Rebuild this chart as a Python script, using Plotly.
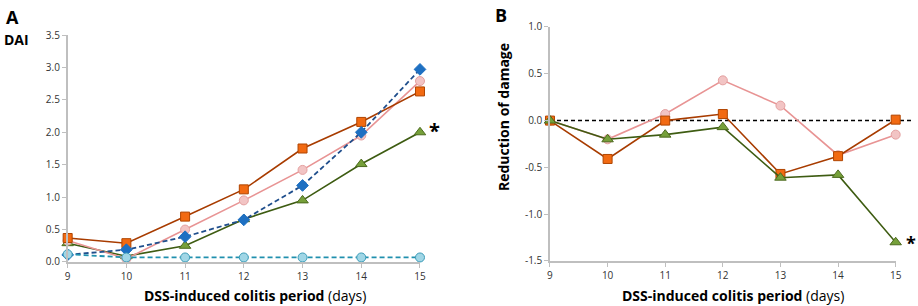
import plotly.graph_objects as go

days = [9, 10, 11, 12, 13, 14, 15]

# Panel A: DAI
dai_orange = [0.37, 0.29, 0.70, 1.12, 1.75, 2.16, 2.63]
dai_pink = [0.33, 0.05, 0.50, 0.95, 1.42, 1.95, 2.79]
dai_blue = [0.11, 0.19, 0.39, 0.65, 1.18, 2.00, 2.97]
dai_green = [0.29, 0.09, 0.25, 0.66, 0.95, 1.51, 2.00]
dai_cyan = [0.12, 0.07, 0.07, 0.07, 0.07, 0.07, 0.07]

# Panel B: reduction of damage
red_pink = [0.0, -0.20, 0.07, 0.43, 0.16, -0.37, -0.15]
red_orange = [0.0, -0.41, 0.0, 0.07, -0.57, -0.38, 0.01]
red_green = [0.0, -0.20, -0.15, -0.07, -0.61, -0.58, -1.30]

a_ticks = [0.0, 0.5, 1.0, 1.5, 2.0, 2.5, 3.0, 3.5]
a_ticktext = ["0.0", "0.5", "1.0", "1.5", "2.0", "2.5", "3.0", "3.5"]
b_ticks = [-1.5, -1.0, -0.5, 0.0, 0.5, 1.0]
b_ticktext = ["-1.5", "-1.0", "-0.5", "0.0", "0.5", "1.0"]

FONT = "Open Sans"

ORANGE = dict(line=dict(color="#A83C00", width=1.6),
              marker=dict(symbol="square", size=9, color="#F26A12",
                          line=dict(color="#B04500", width=1)))
PINK = dict(line=dict(color="#E89494", width=1.6),
            marker=dict(symbol="circle", size=9, color="#F2C4C4",
                        line=dict(color="#E4A0A0", width=1)))
GREEN = dict(line=dict(color="#3E5C12", width=1.6),
             marker=dict(symbol="triangle-up", size=10, color="#76A03A",
                         line=dict(color="#4C6A1E", width=1)))
BLUE = dict(line=dict(color="#1F4E8C", width=1.8, dash="5px,3px"),
            marker=dict(symbol="diamond", size=9, color="#1E70C2",
                        line=dict(color="#1E70C2", width=1)))
CYAN = dict(line=dict(color="#2090AE", width=1.8, dash="5px,3px"),
            marker=dict(symbol="circle", size=9, color="#A0D6E6",
                        line=dict(color="#3C9CB8", width=1)))

fig = go.Figure()

def add(x, y, style, xa, ya):
    fig.add_trace(go.Scatter(x=x, y=y, mode="lines+markers", xaxis=xa, yaxis=ya,
                             line=style["line"], marker=style["marker"],
                             cliponaxis=False, showlegend=False, hoverinfo="x+y"))

add(days, dai_green, GREEN, "x", "y")
add(days, dai_pink, PINK, "x", "y")
add(days, dai_orange, ORANGE, "x", "y")
add(days, dai_blue, BLUE, "x", "y")
add(days, dai_cyan, CYAN, "x", "y")

add(days, red_pink, PINK, "x2", "y2")
add(days, red_orange, ORANGE, "x2", "y2")
add(days, red_green, GREEN, "x2", "y2")

axis_common = dict(showgrid=False, zeroline=False, showline=True, automargin=False,
                   linecolor="#BFBFBF", linewidth=1.5, ticks="outside",
                   tickcolor="#BFBFBF", ticklen=4, tickwidth=1,
                   tickfont=dict(family=FONT, size=10, color="#333333"))

title_text = "<b>DSS-induced colitis period</b> (days)"

fig.update_layout(
    template="none",
    width=918, height=306, autosize=False,
    margin=dict(l=0, r=0, t=0, b=0, pad=0),
    paper_bgcolor="white", plot_bgcolor="white",
    font=dict(family=FONT),
    xaxis=dict(domain=[0.0737, 0.4575], range=[9, 15], tickvals=days, anchor="y",
               **axis_common),
    yaxis=dict(domain=[0.1438, 0.8856], range=[0, 3.5], tickvals=a_ticks,
               ticktext=a_ticktext, anchor="x", **axis_common),
    xaxis2=dict(domain=[0.5991, 0.9757], range=[9, 15], tickvals=days, anchor="y2",
                **axis_common),
    yaxis2=dict(domain=[0.1471, 0.9118], range=[-1.5, 1.0], tickvals=b_ticks,
                ticktext=b_ticktext, anchor="x2", **axis_common),
)

# zero reference line in panel B
fig.add_shape(type="line", xref="paper", yref="y2", x0=550 / 918, x1=913 / 918,
              y0=0, y1=0, line=dict(color="black", width=1.5, dash="4px,3px"),
              layer="below")

ann = []
ann.append(dict(text="<b>A</b>", x=4 / 918, y=1 - 3 / 306, xref="paper", yref="paper",
                xanchor="left", yanchor="top", showarrow=False,
                font=dict(family=FONT, size=18, color="black")))
ann.append(dict(text="<b>DAI</b>", x=2 / 918, y=1 - 40 / 306, xref="paper", yref="paper",
                xanchor="left", yanchor="middle", showarrow=False,
                font=dict(family=FONT, size=14, color="black")))
ann.append(dict(text="<b>B</b>", x=493 / 918, y=1 - 1 / 306, xref="paper", yref="paper",
                xanchor="left", yanchor="top", showarrow=False,
                font=dict(family=FONT, size=18, color="black")))
ann.append(dict(text="<b>Reduction of damage</b>", x=504 / 918, y=1 - 117 / 306,
                xref="paper", yref="paper", xanchor="center", yanchor="middle",
                textangle=-90, showarrow=False,
                font=dict(family=FONT, size=14, color="black")))
ann.append(dict(text=title_text, x=255 / 918, y=1 - 295 / 306, xref="paper", yref="paper",
                xanchor="center", yanchor="middle", showarrow=False,
                font=dict(family=FONT, size=14, color="black")))
ann.append(dict(text=title_text, x=733 / 918, y=1 - 295 / 306, xref="paper", yref="paper",
                xanchor="center", yanchor="middle", showarrow=False,
                font=dict(family=FONT, size=14, color="black")))
ann.append(dict(text="<b>*</b>", x=434 / 918, y=1 - 130 / 306, xref="paper", yref="paper",
                xanchor="center", yanchor="middle", showarrow=False,
                font=dict(family=FONT, size=20, color="black")))
ann.append(dict(text="<b>*</b>", x=911 / 918, y=1 - 243 / 306, xref="paper", yref="paper",
                xanchor="center", yanchor="middle", showarrow=False,
                font=dict(family=FONT, size=18, color="black")))
fig.update_layout(annotations=ann)

fig.write_html("out.html", config={"displayModeBar": False},
               post_script="document.body.style.margin='0px';document.body.style.overflow='hidden';")
